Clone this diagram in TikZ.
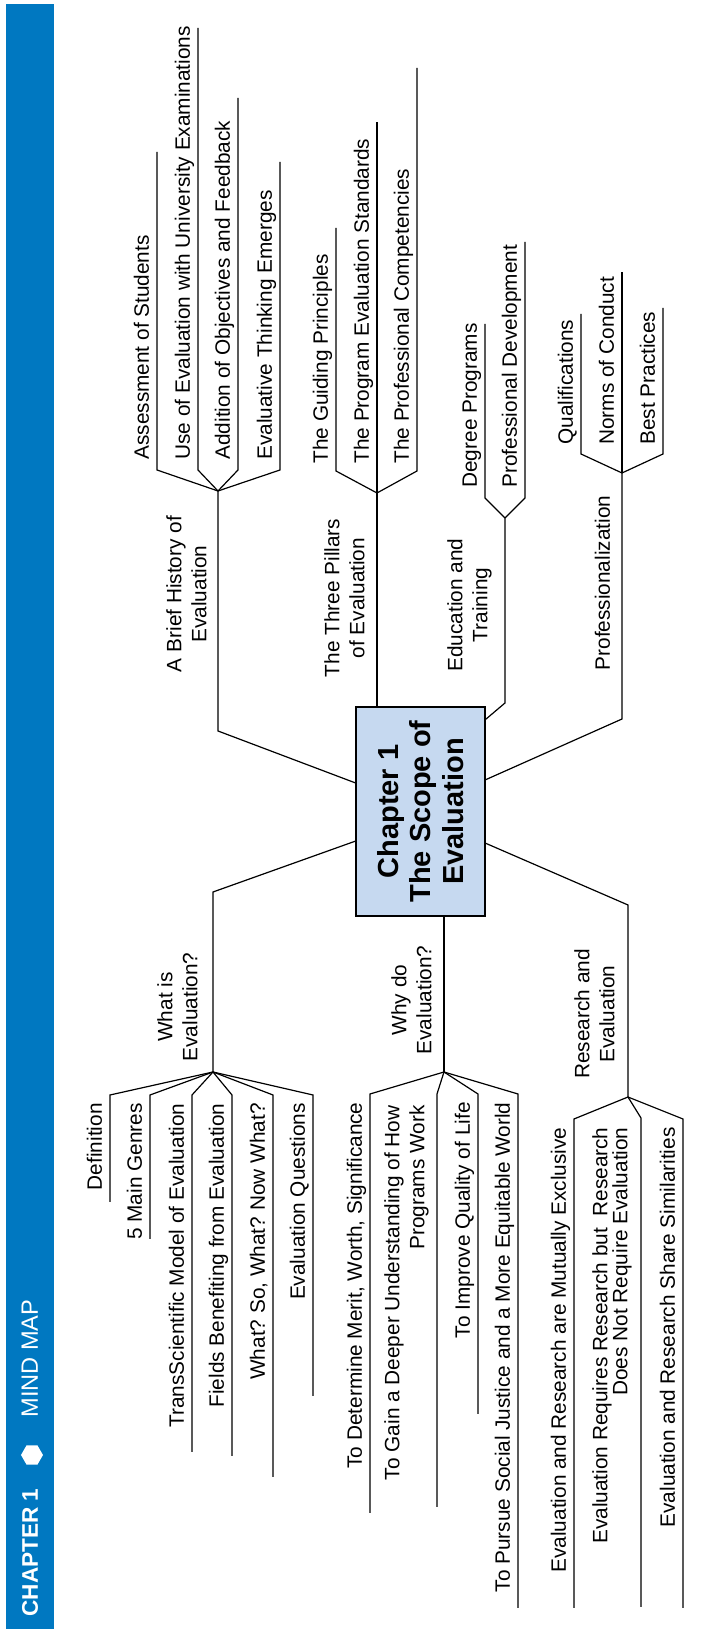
\documentclass[tikz,border=0pt]{standalone}
\usepackage{fontspec}
\setmainfont{Liberation Sans}
\usetikzlibrary{calc,shapes.geometric}
\definecolor{barblue}{RGB}{0,120,193}
\definecolor{hubblue}{RGB}{198,217,240}
\tikzset{font={\fontsize{10.4pt}{12.5pt}\selectfont}}
\tikzset{
  hub/.style={draw, line width=0.6pt, fill=hubblue, minimum width=104.5pt, minimum height=64.5pt,
    inner sep=0, align=center, font={\fontsize{14.5pt}{16.4pt}\selectfont\bfseries}},
  topic/.style={align=center, inner sep=0},
  leaf/.style={inner sep=0},
  wire/.style={line width=0.6pt},
  bartext/.style={text=white, inner sep=0, font={\fontsize{11.8pt}{14pt}\selectfont}},
  hexmark/.style={regular polygon, regular polygon sides=6, rotate=30, fill=white,
    minimum size=11pt, inner sep=0}
}

\begin{document}
\frenchspacing
\begin{tikzpicture}[x=0.5pt,y=0.5pt]
\begin{scope}[rotate=90,transform shape]
\useasboundingbox (0,0) rectangle (1629,705);
%title bar
\fill[barblue] (0,651) rectangle (1625,699);
\node[bartext, anchor=base west, font={\fontsize{11.3pt}{14pt}\selectfont\bfseries}] (chap) at (12,667) {CHAPTER 1};
\node[hexmark] (dot) at (174,673) {};
\node[bartext, anchor=base west] (mind) at (211,667) {MIND MAP};

%center
\node[hub] (ctr) at (817.5,284.5) {Chapter 1\\The Scope of\\Evaluation};

%A Brief History of Evaluation
\coordinate (histbend) at (898,487);
\coordinate (hist) at (1138,487);
\draw[wire] ($(ctr.north west)!0.636!(ctr.north east)$) -- (histbend) -- (hist);
\node[topic, anchor=south] (histlbl) at (1035,498) {A Brief History of\\Evaluation};
\foreach \n/\y/\e/\t in {1/548/1477/Assessment of Students,
    2/507/1601/Use of Evaluation with University Examinations,
    3/467/1531/Addition of Objectives and Feedback,
    4/425/1467/Evaluative Thinking Emerges}{
  \coordinate (hist\n) at (1159,\y);
  \coordinate (hist\n e) at (\e,\y);
  \draw[wire] (hist) -- (hist\n) -- (hist\n e);
  \node[leaf, anchor=base west] (hist\n t) at (1169,\y+8) {\t};
}

%The Three Pillars of Evaluation
\coordinate (pill) at (1136,328);
\draw[wire] (ctr.east |- pill) -- (pill);
\node[topic, anchor=south] (pilllbl) at (1031,340) {The Three Pillars\\of Evaluation};
\foreach \n/\y/\e/\t in {1/369/1401/The Guiding Principles,
    2/328/1507/The Program Evaluation Standards,
    3/288/1561/The Professional Competencies}{
  \coordinate (pill\n) at (1158,\y);
  \coordinate (pill\n e) at (\e,\y);
  \draw[wire] (pill) -- (pill\n) -- (pill\n e);
  \node[leaf, anchor=base west] (pill\n t) at (1165,\y+8) {\t};
}

%Education and Training
\coordinate (edubend) at (926,200);
\coordinate (edu) at (1111,200);
\draw[wire] ($(ctr.south west)!0.938!(ctr.south east)$) -- (edubend) -- (edu);
\node[topic, anchor=south] (edulbl) at (1024,213) {Education and\\Training};
\foreach \n/\y/\e/\t in {1/220/1305/Degree Programs,
    2/180/1387/Professional Development}{
  \coordinate (edu\n) at (1131,\y);
  \coordinate (edu\n e) at (\e,\y);
  \draw[wire] (edu) -- (edu\n) -- (edu\n e);
  \node[leaf, anchor=base west] (edu\n t) at (1141,\y+8) {\t};
}

%Professionalization
\coordinate (profbend) at (910,83);
\coordinate (prof) at (1156,83);
\draw[wire] ($(ctr.south west)!0.651!(ctr.south east)$) -- (profbend) -- (prof);
\node[topic, anchor=base] (proflbl) at (1046,95) {Professionalization};
\foreach \n/\y/\e/\t in {1/124/1315/Qualifications,
    2/83/1357/Norms of Conduct,
    3/42/1321/Best Practices}{
  \coordinate (prof\n) at (1175,\y);
  \coordinate (prof\n e) at (\e,\y);
  \draw[wire] (prof) -- (prof\n) -- (prof\n e);
  \node[leaf, anchor=base west] (prof\n t) at (1184,\y+8) {\t};
}

%What is Evaluation?
\coordinate (whatbend) at (737,492);
\coordinate (what) at (557,492);
\draw[wire] ($(ctr.north west)!0.359!(ctr.north east)$) -- (whatbend) -- (what);
\node[topic, anchor=south] (whatlbl) at (622,507) {What is\\Evaluation?};
\foreach \n/\y/\e/\t in {1/595/427/Definition,
    2/555/390/5 Main Genres,
    3/513/177/TransScientific Model of Evaluation,
    4/473/173/Fields Benefiting from Evaluation,
    5/432/152/{What? So, What? Now What?},
    6/392/233/Evaluation Questions}{
  \coordinate (what\n) at (534,\y);
  \coordinate (what\n e) at (\e,\y);
  \draw[wire] (what) -- (what\n) -- (what\n e);
  \node[leaf, anchor=base east] (what\n t) at (526,\y+8) {\t};
}

%Why do Evaluation?
\coordinate (why) at (557,261);
\draw[wire] (ctr.west |- why) -- (why);
\node[topic, anchor=south] (whylbl) at (629,273) {Why do\\Evaluation?};
\foreach \n/\y/\e/\t in {1/335/116/{To Determine Merit, Worth, Significance},
    3/227/215/To Improve Quality of Life,
    4/187/21/To Pursue Social Justice and a More Equitable World}{
  \coordinate (why\n) at (535,\y);
  \coordinate (why\n e) at (\e,\y);
  \draw[wire] (why) -- (why\n) -- (why\n e);
  \node[leaf, anchor=base east] (why\n t) at (527,\y+8) {\t};
}
\coordinate (why2) at (535,268);
\coordinate (why2e) at (122,268);
\draw[wire] (why) -- (why2) -- (why2e);
\node[leaf, align=right, anchor=south east] (why2t) at (524,276) {To Gain a Deeper Understanding of How\\Programs Work};

%Research and Evaluation
\coordinate (resbend) at (724,77);
\coordinate (res) at (532,77);
\draw[wire] ($(ctr.south west)!0.349!(ctr.south east)$) -- (resbend) -- (res);
\node[topic, anchor=south] (reslbl) at (615,90) {Research and\\Evaluation};
\foreach \n/\y/\t in {1/131/Evaluation and Research are Mutually Exclusive,
    3/22/Evaluation and Research Share Similarities}{
  \coordinate (res\n) at (510,\y);
  \coordinate (res\n e) at (21,\y);
  \draw[wire] (res) -- (res\n) -- (res\n e);
  \node[leaf, anchor=base east] (res\n t) at (502,\y+8) {\t};
}
\coordinate (res2) at (511,64);
\coordinate (res2e) at (22,64);
\draw[wire] (res) -- (res2) -- (res2e);
\node[leaf, align=right, anchor=south east] (res2t) at (502,73) {Evaluation Requires Research but\ \ Research\\[-2.5pt]Does Not Require Evaluation};
\end{scope}
\end{tikzpicture}
\end{document}
